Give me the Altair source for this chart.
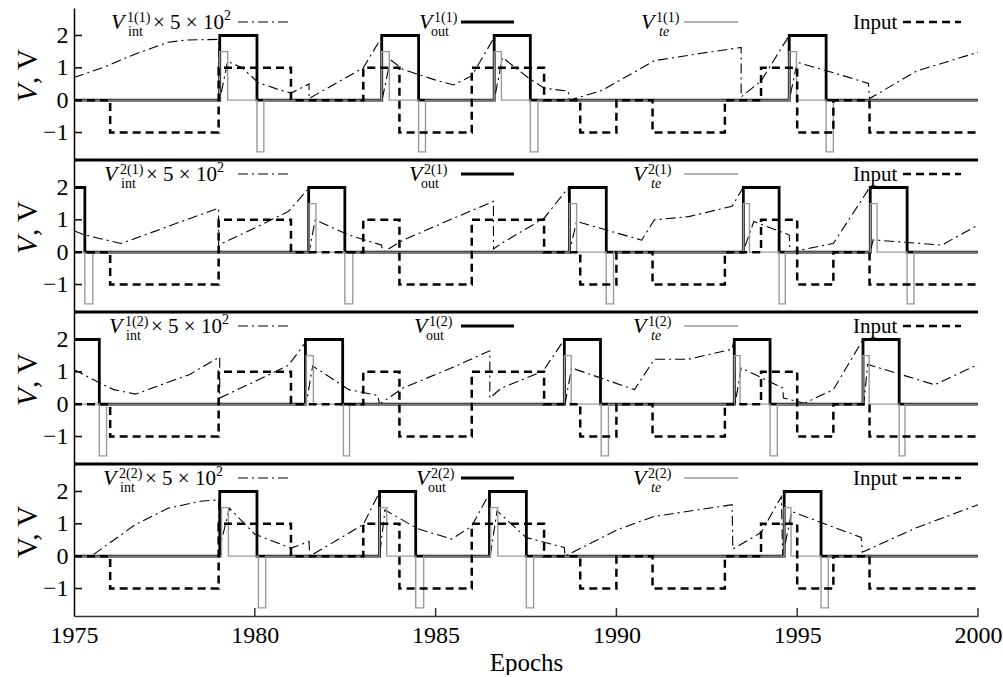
import altair as alt
import pandas as pd

FONT = "Liberation Serif, Times New Roman, Times, serif"

x_ticks = [1975, 1980, 1985, 1990, 1995, 2000]
y_ticks = [-1, 0, 1, 2]

# Input signal (same in all panels), step-after
input_t = [1975, 1976, 1979, 1981, 1983, 1984, 1986, 1988, 1989, 1990, 1991, 1993, 1994, 1995, 1996, 1997, 2000]
input_v = [0, -1, 1, 0, 1, -1, 1, 0, -1, 0, -1, 0, 1, -1, 0, -1, -1]

# ---- panel 1(1)
out11_t = [1975, 1979.03, 1980.06, 1983.51, 1984.53, 1986.62, 1987.62, 1994.78, 1995.80, 2000]
out11_v = [0, 2, 0, 2, 0, 2, 0, 2, 0, 0]
te11_t = [1975, 1979.03, 1979.25, 1980.06, 1980.25, 1983.51, 1983.72, 1984.53, 1984.72, 1986.62, 1986.82,
          1987.62, 1987.83, 1994.78, 1994.98, 1995.80, 1996.0, 2000]
te11_v = [0, 1.5, 0, -1.6, 0, 1.5, 0, -1.6, 0, 1.5, 0, -1.6, 0, 1.5, 0, -1.6, 0, 0]
int11_t = [1975.0, 1975.8, 1976.7, 1977.6, 1978.1, 1979.0, 1979.03, 1979.25, 1979.65, 1980.1, 1980.6, 1981.0,
           1981.5, 1981.5, 1983.0, 1983.5, 1983.52, 1983.75, 1984.1, 1985.0, 1985.5, 1986.0, 1986.6, 1986.62,
           1986.85, 1987.55, 1988.0, 1988.67, 1988.7, 1989.6, 1991.05, 1992.35, 1993.45, 1993.45, 1994.0,
           1994.75, 1994.78, 1995.0, 1996.0, 1996.97, 1997.0, 1998.3, 2000.0]
int11_v = [0.70, 1.01, 1.43, 1.79, 1.86, 1.88, 0.0, 1.2, 1.0, 0.54, 0.35, 0.22,
           0.5, 0.05, 1.0, 1.93, 0.0, 1.25, 0.95, 0.62, 0.47, 0.75, 1.9, 0.0,
           1.32, 0.7, 0.37, 0.28, 0.0, 0.3, 1.22, 1.45, 1.63, 0.1, 0.59,
           1.95, 0.0, 1.17, 0.85, 0.52, 0.05, 0.9, 1.48]

# ---- panel 2(1)
out21_t = [1975, 1975.3, 1981.49, 1982.49, 1988.7, 1989.72, 1993.51, 1994.5, 1997.02, 1998.04, 2000]
out21_v = [2, 0, 2, 0, 2, 0, 2, 0, 2, 0, 0]
te21_t = [1975, 1975.3, 1975.52, 1981.5, 1981.69, 1982.49, 1982.71, 1988.7, 1988.9, 1989.72, 1989.92,
          1993.51, 1993.68, 1994.5, 1994.67, 1997.02, 1997.21, 1998.04, 1998.23, 2000]
te21_v = [0, -1.6, 0, 1.5, 0, -1.6, 0, 1.5, 0, -1.6, 0, 1.5, 0, -1.6, 0, 1.5, 0, -1.6, 0, 0]
int21_t = [1975.0, 1975.3, 1976.3, 1977.0, 1978.0, 1979.0, 1979.0, 1980.0, 1980.93, 1981.5, 1981.5, 1981.67,
           1982.6, 1983.5, 1983.55, 1984.1, 1985.5, 1986.6, 1986.6, 1986.82, 1988.0, 1988.67, 1988.7, 1988.9,
           1990.7, 1991.05, 1992.0, 1993.2, 1993.5, 1993.5, 1993.8, 1994.78, 1994.8, 1996.0, 1997.0, 1997.02,
           1997.1, 1999.0, 2000.0]
int21_v = [0.66, 0.53, 0.27, 0.55, 0.96, 1.36, 0.22, 0.75, 1.26, 1.99, 0.0, 1.0,
           0.53, 0.22, 0.0, 0.37, 1.05, 1.57, 0.1, 0.27, 1.05, 1.99, 0.0, 0.95,
           0.37, 1.0, 1.1, 1.42, 1.99, 0.0, 0.95, 0.53, 0.0, 0.27, 1.99, 0.0,
           0.38, 0.22, 0.84]

# ---- panel 1(2)
out12_t = [1975, 1975.7, 1981.4, 1982.43, 1988.56, 1989.56, 1993.26, 1994.25, 1996.82, 1997.82, 2000]
out12_v = [2, 0, 2, 0, 2, 0, 2, 0, 2, 0, 0]
te12_t = [1975, 1975.7, 1975.9, 1981.42, 1981.62, 1982.45, 1982.62, 1988.56, 1988.75, 1989.58, 1989.78,
          1993.26, 1993.42, 1994.25, 1994.45, 1996.82, 1996.99, 1997.82, 1997.98, 2000]
te12_v = [0, -1.6, 0, 1.5, 0, -1.6, 0, 1.5, 0, -1.6, 0, 1.5, 0, -1.6, 0, 1.5, 0, -1.6, 0, 0]
int12_t = [1975.0, 1975.7, 1976.1, 1976.7, 1978.2, 1979.03, 1979.03, 1980.0, 1980.93, 1981.4, 1981.42, 1981.6,
           1982.6, 1983.4, 1983.45, 1984.1, 1985.5, 1986.5, 1986.5, 1986.82, 1987.97, 1988.56, 1988.58, 1988.76,
           1990.5, 1991.05, 1992.0, 1993.2, 1993.26, 1993.28, 1993.45, 1994.6, 1994.62, 1995.2, 1996.0, 1996.82,
           1996.84, 1996.95, 1998.8, 2000.0]
int12_v = [1.07, 0.66, 0.45, 0.31, 0.92, 1.46, 0.19, 0.7, 1.2, 1.9, 0.0, 1.18,
           0.45, 0.27, 0.0, 0.5, 1.15, 1.65, 0.19, 0.5, 1.02, 2.0, 0.0, 1.12,
           0.45, 1.39, 1.39, 1.7, 2.0, 0.0, 1.12, 0.5, 0.19, 0.03, 0.45, 2.0,
           0.0, 1.23, 0.6, 1.23]

# ---- panel 2(2)
out22_t = [1975, 1979.03, 1980.06, 1983.45, 1984.45, 1986.49, 1987.51, 1994.64, 1995.66, 2000]
out22_v = [0, 2, 0, 2, 0, 2, 0, 2, 0, 0]
te22_t = [1975, 1979.08, 1979.27, 1980.1, 1980.3, 1983.45, 1983.65, 1984.45, 1984.67, 1986.52, 1986.72,
          1987.51, 1987.71, 1994.64, 1994.83, 1995.66, 1995.86, 2000]
te22_v = [0, 1.5, 0, -1.6, 0, 1.5, 0, -1.6, 0, 1.5, 0, -1.6, 0, 1.5, 0, -1.6, 0, 0]
int22_t = [1975.0, 1975.5, 1976.7, 1977.6, 1978.5, 1979.0, 1979.03, 1979.3, 1980.0, 1981.0, 1981.5, 1981.52,
           1983.0, 1983.43, 1983.45, 1983.6, 1984.5, 1985.45, 1986.0, 1986.49, 1986.51, 1986.7, 1987.5, 1988.56,
           1988.58, 1990.05, 1991.05, 1993.2, 1993.22, 1994.0, 1994.56, 1994.6, 1994.85, 1996.77, 1996.8,
           1998.3, 2000.0]
int22_v = [0.0, 0.02, 0.98, 1.48, 1.7, 1.74, 0.27, 1.48, 0.68, 0.25, 0.45, 0.0,
           0.98, 1.94, 0.0, 1.43, 0.85, 0.53, 0.93, 1.94, 0.0, 1.4, 0.58, 0.27,
           0.0, 0.83, 1.23, 1.59, 0.22, 0.73, 1.84, 0.0, 1.38, 0.58, 0.12,
           0.88, 1.59]

panel_tags = ["1(1)", "2(1)", "1(2)", "2(2)"]
panel_series = [
    (out11_t, out11_v, te11_t, te11_v, int11_t, int11_v),
    (out21_t, out21_v, te21_t, te21_v, int21_t, int21_v),
    (out12_t, out12_v, te12_t, te12_v, int12_t, int12_v),
    (out22_t, out22_v, te22_t, te22_v, int22_t, int22_v),
]
# legend x anchors (pixels inside each panel)
leg_int_x = [37, 30, 35, 29]
leg_out_x = [345, 335, 340, 342]
leg_te_x = [567, 559, 559, 559]
leg_input_x = 779

W, H = 904, 152

yaxis = alt.Axis(values=y_ticks, ticks=False, tickSize=0, grid=False, title=None, labelFont=FONT,
                 labelFontSize=24, labelColor="black", labelPadding=6, domainColor="black",
                 domainWidth=1.5, format="d")
xaxis_mid = alt.Axis(labels=False, ticks=False, tickSize=0, grid=False, title=None, domain=False)
xaxis_last = alt.Axis(values=x_ticks, ticks=False, tickSize=0, grid=False, title="Epochs",
                      titleFont=FONT, titleFontSize=25, titleFontWeight="normal", titleColor="black",
                      labelFont=FONT, labelFontSize=24, labelColor="black", labelPadding=7,
                      titlePadding=3, domainColor="#333333", domainWidth=1.5, format="d",
                      labelFlush=False, labelOverlap=False)


def px_enc(col):
    return alt.X(col + ":Q", scale=None, axis=None)


def py_enc(col):
    return alt.Y(col + ":Q", scale=None, axis=None)


def make_panel(k):
    last = k == 3
    out_t, out_v, te_t, te_v, int_t, int_v = panel_series[k]
    tag = panel_tags[k]
    xenc = alt.X("t:Q", scale=alt.Scale(domain=[1975, 2000], nice=False, zero=False),
                 axis=xaxis_last if last else xaxis_mid)
    yenc = alt.Y("v:Q", scale=alt.Scale(domain=[-1.85, 2.85], nice=False, zero=False), axis=yaxis)

    df_in = pd.DataFrame({"t": input_t, "v": input_v, "i": range(len(input_t))})
    df_out = pd.DataFrame({"t": out_t, "v": out_v, "i": range(len(out_t))})
    df_te = pd.DataFrame({"t": te_t, "v": te_v, "i": range(len(te_t))})
    df_int = pd.DataFrame({"t": int_t, "v": int_v, "i": range(len(int_t))})
    one = pd.DataFrame({"d": [0]})

    layers = [
        alt.Chart(df_int).mark_line(color="black", strokeWidth=1.1, strokeDash=[10, 4, 2, 4]).encode(
            x=xenc, y=yenc, order="i:Q"),
        alt.Chart(df_out).mark_line(interpolate="step-after", color="black", strokeWidth=2.8).encode(
            x=xenc, y=yenc, order="i:Q"),
        alt.Chart(df_te).mark_line(interpolate="step-after", color="#9a9a9a", strokeWidth=1.4).encode(
            x=xenc, y=yenc, order="i:Q"),
        alt.Chart(df_in).mark_line(interpolate="step-after", color="black", strokeWidth=2.5,
                                   strokeDash=[8, 5]).encode(x=xenc, y=yenc, order="i:Q"),
        alt.Chart(pd.DataFrame({"v": y_ticks})).mark_rule(color="black", strokeWidth=1.5).encode(
            y=yenc, x=alt.value(0), x2=alt.value(8)),
    ]
    if last:
        layers.append(
            alt.Chart(pd.DataFrame({"t": x_ticks[1:]})).mark_rule(color="#333333", strokeWidth=1.5).encode(
                x=xenc, y=alt.value(H), y2=alt.value(H - 8)))
    else:
        # thick separator between stacked panels (filled band)
        layers.append(alt.Chart(one).mark_rect(color="black", strokeWidth=0).encode(
            x=alt.value(0), x2=alt.value(W), y=alt.value(H - 1.5), y2=alt.value(H + 1.5)))

    a, b, c = leg_int_x[k], leg_out_x[k], leg_te_x[k]
    big_it = pd.DataFrame({"px": [a, b, c], "py": [21, 21, 21], "txt": ["V", "V", "V"]})
    big_up = pd.DataFrame({"px": [a + 42, leg_input_x], "py": [21, 21], "txt": ["× 5 × 10", "Input"]})
    small_up = pd.DataFrame({"px": [a + 16, a + 17, a + 113, b + 15, b + 12, c + 15],
                             "py": [14, 28, 12, 14, 28, 14],
                             "txt": [tag, "int", "2", tag, "out", tag]})
    small_it = pd.DataFrame({"px": [c + 18], "py": [28], "txt": ["te"]})

    def txt_layer(df, size, style):
        return alt.Chart(df).mark_text(font=FONT, fontSize=size, fontStyle=style, color="black",
                                       align="left", baseline="alphabetic").encode(
            x=px_enc("px"), y=py_enc("py"), text="txt:N")

    layers += [txt_layer(big_it, 22, "italic"), txt_layer(big_up, 21, "normal"),
               txt_layer(small_up, 14, "normal"), txt_layer(small_it, 14, "italic")]

    # legend line samples
    layers += [
        alt.Chart(one).mark_rule(color="black", strokeWidth=1.1, strokeDash=[10, 4, 2, 4]).encode(
            x=alt.value(164), x2=alt.value(217), y=alt.value(14)),
        alt.Chart(one).mark_rule(color="black", strokeWidth=2.8).encode(
            x=alt.value(387), x2=alt.value(440), y=alt.value(14)),
        alt.Chart(one).mark_rule(color="#9a9a9a", strokeWidth=1.4).encode(
            x=alt.value(610), x2=alt.value(664), y=alt.value(14)),
        alt.Chart(one).mark_rule(color="black", strokeWidth=2.5, strokeDash=[8, 5]).encode(
            x=alt.value(829), x2=alt.value(887), y=alt.value(14)),
    ]

    # y title "V, V"
    if last:
        t_up = pd.DataFrame({"px": [-46], "py": [94], "txt": ["V, V"]})
        layers.append(alt.Chart(t_up).mark_text(font=FONT, fontSize=29, angle=270, align="left",
                                                baseline="middle", color="black").encode(
            x=px_enc("px"), y=py_enc("py"), text="txt:N"))
    else:
        t_it = pd.DataFrame({"px": [-46], "py": [94], "txt": ["V"]})
        t_up = pd.DataFrame({"px": [-46], "py": [76], "txt": [", V"]})
        layers.append(alt.Chart(t_it).mark_text(font=FONT, fontSize=29, fontStyle="italic", angle=270,
                                                align="left", baseline="middle", color="black").encode(
            x=px_enc("px"), y=py_enc("py"), text="txt:N"))
        layers.append(alt.Chart(t_up).mark_text(font=FONT, fontSize=29, angle=270, align="left",
                                                baseline="middle", color="black").encode(
            x=px_enc("px"), y=py_enc("py"), text="txt:N"))

    return alt.layer(*layers).properties(width=W, height=H)


chart = alt.vconcat(*[make_panel(k) for k in range(4)], spacing=0, bounds="flush").properties(
    padding={"left": 14, "top": 8, "right": 0, "bottom": 0}
).configure(background="white").configure_view(stroke=None, strokeWidth=0)

chart.save("out.html", embed_options={"renderer": "svg", "actions": False})
